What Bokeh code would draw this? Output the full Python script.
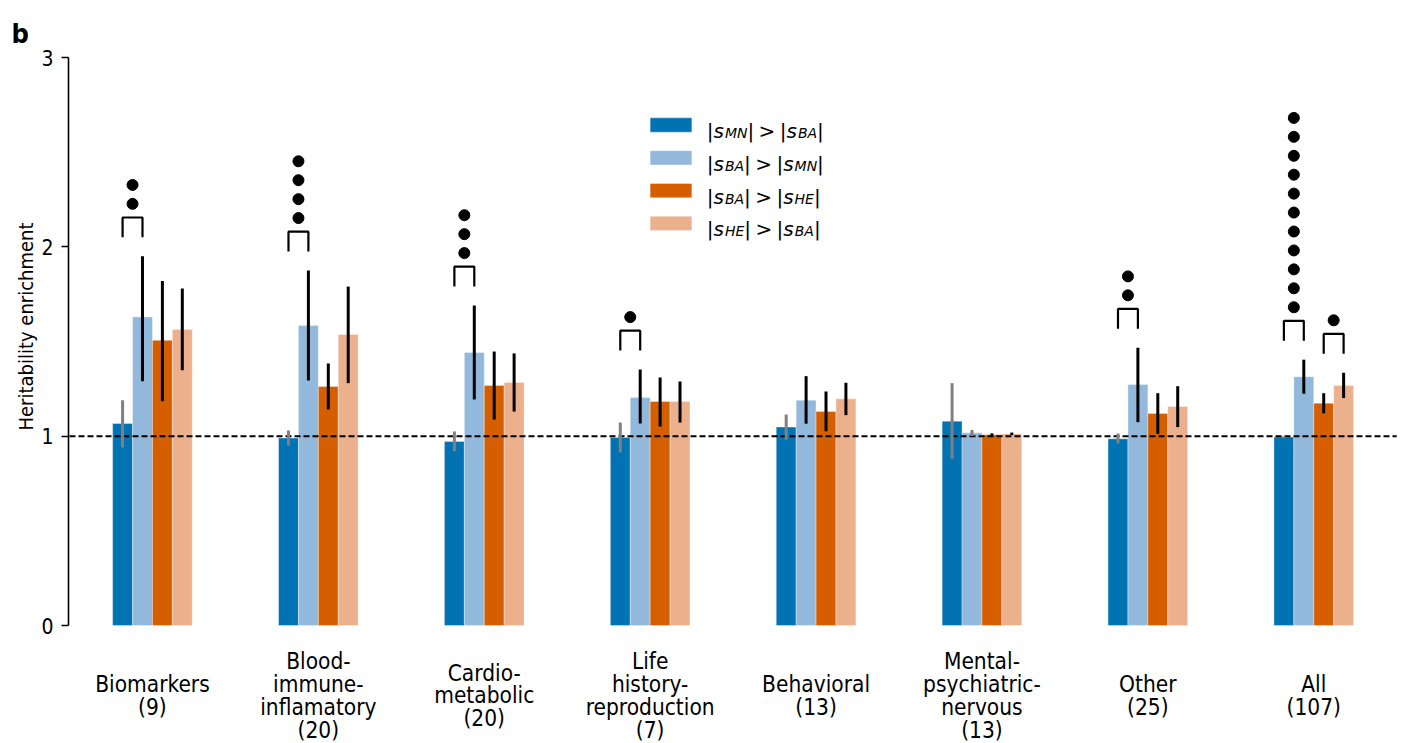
import numpy as np
from bokeh.plotting import figure
from bokeh.models import Range1d, FixedTicker, ColumnDataSource
from bokeh.embed import file_html
from bokeh.resources import INLINE

# ---------------- data ----------------
categories = ["Biomarkers\n(9)", "Blood-\nimmune-\ninflamatory\n(20)", "Cardio-\nmetabolic\n(20)",
              "Life\nhistory-\nreproduction\n(7)", "Behavioral\n(13)", "Mental-\npsychiatric-\nnervous\n(13)",
              "Other\n(25)", "All\n(107)"]

mn_gt_ba = [1.067, 0.990, 0.972, 0.993, 1.048, 1.079, 0.986, 0.995]
mn_gt_ba_lo = [0.940, 0.950, 0.920, 0.914, 0.981, 0.880, 0.961, 0.990]
mn_gt_ba_hi = [1.190, 1.030, 1.025, 1.072, 1.114, 1.280, 1.014, 1.000]

ba_gt_mn = [1.630, 1.585, 1.442, 1.204, 1.190, 1.018, 1.273, 1.314]
ba_gt_mn_lo = [1.290, 1.294, 1.194, 1.067, 1.066, 1.000, 1.074, 1.224]
ba_gt_mn_hi = [1.950, 1.875, 1.690, 1.352, 1.317, 1.033, 1.467, 1.404]

ba_gt_he = [1.506, 1.262, 1.268, 1.183, 1.130, 1.007, 1.120, 1.174]
ba_gt_he_lo = [1.185, 1.141, 1.088, 1.051, 1.026, 1.003, 1.012, 1.121]
ba_gt_he_hi = [1.820, 1.384, 1.447, 1.310, 1.236, 1.015, 1.227, 1.227]

he_gt_ba = [1.564, 1.537, 1.284, 1.183, 1.197, 1.012, 1.157, 1.268]
he_gt_ba_lo = [1.348, 1.280, 1.130, 1.072, 1.111, 1.006, 1.048, 1.201]
he_gt_ba_hi = [1.780, 1.790, 1.437, 1.289, 1.282, 1.019, 1.264, 1.335]

# number of significance dots per group (MN vs BA comparison, BA vs HE comparison)
sig_mn_vs_ba = [2, 4, 3, 1, 0, 0, 2, 11]
sig_he_vs_ba = [0, 0, 0, 0, 0, 0, 0, 1]

legend_pairs = [("MN", "BA"), ("BA", "MN"), ("BA", "HE"), ("HE", "BA")]
y_ticks = [0, 1, 2, 3]
reference_level = 1.0
y_label = "Heritability enrichment"
panel_letter = "b"

# ---------------- styles ----------------
colors = ["#0173B2", "#92B9DB", "#D55E00", "#EDB08D"]
series = [(mn_gt_ba, mn_gt_ba_lo, mn_gt_ba_hi),
          (ba_gt_mn, ba_gt_mn_lo, ba_gt_mn_hi),
          (ba_gt_he, ba_gt_he_lo, ba_gt_he_hi),
          (he_gt_ba, he_gt_ba_lo, he_gt_ba_hi)]
FONT = "DejaVu Sans Condensed"
MATHFONT = "DejaVu Sans"
BAR_W = 0.12
offsets = [(-1.5 + k) * BAR_W for k in range(4)]

PX_X = 165.9      # pixels per x unit
PX_Y = 189.33     # pixels per y unit
W, H = 1407, 743
X0_PX = 69        # pixel column of x=-0.5
Y0_PX = 625       # pixel row of y=0

def dx(px):   # pixel column -> data x
    return -0.5 + (px - X0_PX) / PX_X

def dy(py):   # pixel row -> data y
    return (Y0_PX - py) / PX_Y

p = figure(width=W, height=H, output_backend="svg", toolbar_location=None,
           x_axis_type=None,
           x_range=Range1d(dx(0), dx(W)),
           y_range=Range1d(dy(H), dy(0)))
p.min_border_left = 0
p.min_border_right = 0
p.min_border_top = 0
p.min_border_bottom = 0
p.outline_line_color = None
p.ygrid.grid_line_color = None
p.background_fill_color = "white"
p.border_fill_color = "white"

ax = p.yaxis[0]
ax.fixed_location = dx(68)
ax.bounds = (0, 3)
ax.ticker = FixedTicker(ticks=y_ticks)
ax.minor_tick_line_color = None
ax.major_tick_in = 0
ax.major_tick_out = 7
ax.axis_line_width = 1.6
ax.major_tick_line_width = 1.6
ax.axis_line_color = "black"
ax.major_tick_line_color = "black"
ax.major_label_text_font = FONT
ax.major_label_text_font_size = "21px"
ax.major_label_text_color = "black"
ax.major_label_standoff = 8

gx = np.arange(len(categories))

# bars
for k, (vals, lo, hi) in enumerate(series):
    p.vbar(x=gx + offsets[k], top=vals, bottom=0, width=BAR_W,
           fill_color=colors[k], line_color="white", line_alpha=0.35, line_width=1)

# reference line
p.line(x=[-0.5, len(categories) - 0.5], y=[reference_level, reference_level],
       line_color="black", line_width=2, line_dash="6 3")

# error bars
for k, (vals, lo, hi) in enumerate(series):
    ecol = ["black" if l > reference_level else "#808080" for l in lo]
    p.segment(x0=gx + offsets[k], y0=lo, x1=gx + offsets[k], y1=hi,
              line_color=ecol, line_width=3)

# significance brackets and dots
GAP, LEG, DOT0, DSTEP = 0.10, 0.105, 0.072, 0.10
br_xs, br_ys, dot_x, dot_y = [], [], [], []
for (a, b, sig) in [(0, 1, sig_mn_vs_ba), (2, 3, sig_he_vs_ba)]:
    for i, n in enumerate(sig):
        if n == 0:
            continue
        xa, xb = gx[i] + offsets[a], gx[i] + offsets[b]
        base = max(series[a][2][i], series[b][2][i]) + GAP
        top = base + LEG
        br_xs.append([xa, xa, xb, xb])
        br_ys.append([base, top, top, base])
        for d in range(n):
            dot_x.append((xa + xb) / 2)
            dot_y.append(top + DOT0 + d * DSTEP)
p.multi_line(xs=br_xs, ys=br_ys, line_color="black", line_width=2.2)
p.scatter(x=dot_x, y=dot_y, size=11, marker="circle", fill_color="black", line_color="black")

# category labels
p.text(x=gx, y=[dy(695)] * len(categories), text=categories, text_align="center",
       text_baseline="middle", text_font={"value": FONT}, text_font_size={"value": "22.5px"},
       text_line_height=0.88, text_color="black")

# y-axis label and panel letter
p.text(x=[dx(25.5)], y=[dy(326)], text=[y_label], angle=np.pi / 2,
       text_align="center", text_baseline="middle",
       text_font={"value": FONT}, text_font_size={"value": "20px"}, text_color="black")
p.text(x=[dx(11)], y=[dy(33.3)], text=[panel_letter], text_align="left",
       text_baseline="alphabetic", text_font={"value": FONT}, text_font_style="bold",
       text_font_size={"value": "27px"}, text_color="black")

# legend (manual, mathtext-like)
legend_x = 3.0
row0_y = dy(124.5)
row_step = 32.8 / PX_Y
patch_w, patch_h = 41.7, 14.3
p.rect(x=[legend_x + patch_w / 2 / PX_X] * 4,
       y=[row0_y - r * row_step for r in range(4)],
       width=patch_w, height=patch_h, width_units="screen", height_units="screen",
       fill_color=colors, line_color="white", line_alpha=0.35)

F, S = 20.0, 14.0
adv = {'|': 0.337, 's': 0.521, '>': 0.838, 'M': 0.863, 'N': 0.748, 'B': 0.686,
       'A': 0.684, 'H': 0.752, 'E': 0.632}
groups = {("normal", F): dict(x=[], y=[], text=[], xo=[], yo=[]),
          ("italic", F): dict(x=[], y=[], text=[], xo=[], yo=[]),
          ("italic", S): dict(x=[], y=[], text=[], xo=[], yo=[])}
SP = 0.22 * F
for r, (s1, s2) in enumerate(legend_pairs):
    yb = row0_y - r * row_step
    cx = 56.6
    def add(t, style, size, dyo):
        global cx
        g = groups[(style, size)]
        g["x"].append(legend_x); g["y"].append(yb); g["text"].append(t)
        g["xo"].append(cx); g["yo"].append(6 + dyo)
        cx += sum(adv[c] for c in t) * size
    add("|", "normal", F, 0)
    add("s", "italic", F, 0); cx += 1.0
    add(s1, "italic", S, 2)
    add("|", "normal", F, 0)
    cx += SP
    add(">", "normal", F, 0)
    cx += SP
    add("|", "normal", F, 0)
    add("s", "italic", F, 0); cx += 1.0
    add(s2, "italic", S, 2)
    add("|", "normal", F, 0)

for (style, size), g in groups.items():
    src = ColumnDataSource(g)
    p.text(x="x", y="y", text="text", x_offset="xo", y_offset="yo", source=src,
           text_align="left", text_baseline="alphabetic",
           text_font={"value": MATHFONT}, text_font_size={"value": f"{size}px"},
           text_font_style=style, text_color="black")

open("out.html", "w").write(file_html(p, INLINE))
